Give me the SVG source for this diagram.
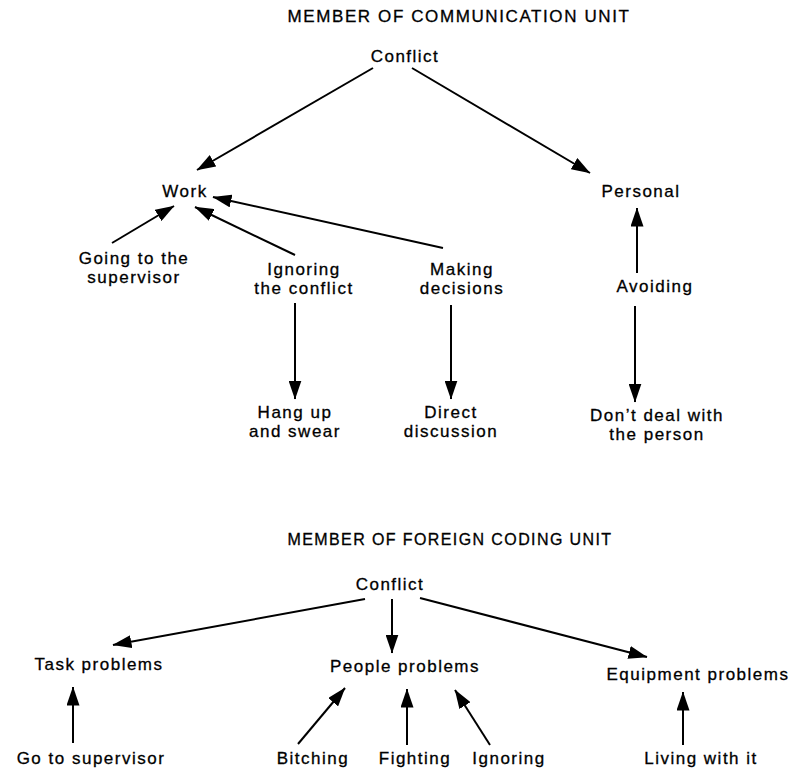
<svg xmlns="http://www.w3.org/2000/svg" width="798" height="769" viewBox="0 0 798 769">
<style>
text{font-family:"Liberation Sans",Arial,Helvetica,sans-serif;font-size:17px;letter-spacing:1.5px;fill:#000;stroke:#000;stroke-width:0.3px;text-anchor:middle}
.t1{letter-spacing:1.6px}
.t2{font-size:16px;letter-spacing:1.4px}
.c line{stroke:#000;stroke-width:2;marker-end:url(#a)}
</style>
<defs>
<marker id="a" viewBox="0 0 19 13" refX="18.5" refY="6.5" markerWidth="19" markerHeight="13" markerUnits="userSpaceOnUse" orient="auto">
<path d="M0,0 L19,6.5 L0,13 Z" fill="#000"/>
</marker>
</defs>
<rect width="798" height="769" fill="#fff"/>
<text class="t1" x="459" y="22">MEMBER OF COMMUNICATION UNIT</text>
<g id="conflict1"><text x="405" y="62">Conflict</text></g>
<g id="work"><text x="185" y="197">Work</text></g>
<g id="personal"><text x="641" y="197">Personal</text></g>
<g id="going"><text x="134" y="264">Going to the</text><text x="134" y="283">supervisor</text></g>
<g id="ignoring1"><text x="304" y="275">Ignoring</text><text x="304" y="294">the conflict</text></g>
<g id="making"><text x="462" y="275">Making</text><text x="462" y="294">decisions</text></g>
<g id="avoiding"><text x="655" y="292">Avoiding</text></g>
<g id="hangup"><text x="295" y="418">Hang up</text><text x="295" y="437">and swear</text></g>
<g id="direct"><text x="451" y="418">Direct</text><text x="451" y="437">discussion</text></g>
<g id="dontdeal"><text x="657" y="421">Don’t deal with</text><text x="657" y="440">the person</text></g>

<text class="t2" x="450" y="545">MEMBER OF FOREIGN CODING UNIT</text>
<g id="conflict2"><text x="390" y="590">Conflict</text></g>
<g id="task"><text x="99" y="670">Task problems</text></g>
<g id="people"><text x="405" y="672">People problems</text></g>
<g id="equipment"><text x="698" y="680">Equipment problems</text></g>
<g id="gotosup"><text x="91" y="764">Go to supervisor</text></g>
<g id="bitching"><text x="313" y="764">Bitching</text></g>
<g id="fighting"><text x="415" y="764">Fighting</text></g>
<g id="ignoring2"><text x="509" y="764">Ignoring</text></g>
<g id="living"><text x="701" y="764">Living with it</text></g>

<g class="c" id="connectors">
<line x1="373" y1="68" x2="197" y2="170"/>
<line x1="412" y1="68" x2="590" y2="173"/>
<line x1="112" y1="243" x2="174" y2="206"/>
<line x1="295" y1="255" x2="195" y2="207"/>
<line x1="443" y1="248" x2="213" y2="197"/>
<line x1="295" y1="303" x2="295" y2="399"/>
<line x1="451" y1="305" x2="451" y2="399"/>
<line x1="637" y1="273" x2="637" y2="208"/>
<line x1="635" y1="306" x2="635" y2="402"/>
<line x1="365" y1="599" x2="113" y2="645"/>
<line x1="392" y1="599" x2="392" y2="653"/>
<line x1="420" y1="598" x2="647" y2="657"/>
<line x1="73" y1="743" x2="73" y2="687"/>
<line x1="298" y1="744" x2="345" y2="688"/>
<line x1="407" y1="745" x2="407" y2="689"/>
<line x1="490" y1="745" x2="455" y2="690"/>
<line x1="683" y1="745" x2="683" y2="692"/>
</g>
</svg>
